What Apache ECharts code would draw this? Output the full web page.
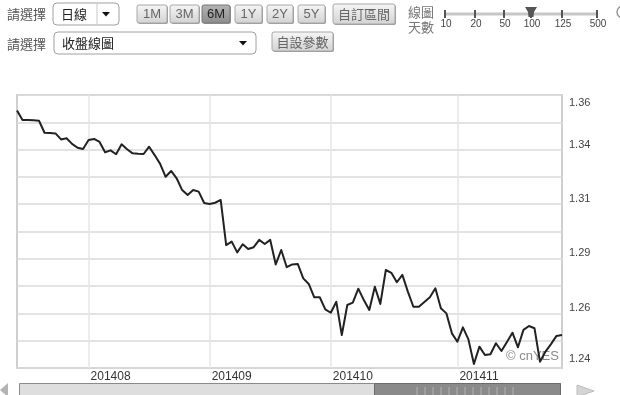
<!DOCTYPE html>
<html><head><meta charset="utf-8">
<script src="https://cdn.jsdelivr.net/npm/echarts@6/dist/echarts.min.js"></script>
<style>html,body{margin:0;padding:0;background:#fff}#c{width:620px;height:395px}</style>
</head><body><div id="c"></div>
<script>
// EUR/USD daily close
const closes = [
1.3527,1.3483,1.3483,1.3482,1.3480,1.3424,1.3423,1.3421,1.3393,1.3398,
1.3372,1.3354,1.3348,1.3390,1.3395,1.3381,1.3333,1.3342,1.3324,1.3370,
1.3347,1.3328,1.3326,1.3325,1.3359,1.3320,1.3279,1.3219,1.3246,1.3212,
1.3157,1.3134,1.3157,1.3150,1.3097,1.3092,1.3098,1.3111,1.2901,1.2917,
1.2867,1.2905,1.2883,1.2891,1.2925,1.2906,1.2925,1.2811,1.2878,1.2798,
1.2811,1.2813,1.2746,1.2720,1.2658,1.2658,1.2602,1.2586,1.2637,1.2482,
1.2622,1.2633,1.2698,1.2645,1.2599,1.2707,1.2627,1.2785,1.2772,1.2728,
1.2762,1.2684,1.2614,1.2614,1.2636,1.2658,1.2700,1.2607,1.2583,1.2490,
1.2451,1.2518,1.2462,1.2347,1.2428,1.2389,1.2393,1.2444,1.2408,1.2450,
1.2493,1.2425,1.2506,1.2524,1.2514,1.2358,1.2405,1.2440,1.2478,1.2482
];
const monthLabels = ['201408','201409','201410','201411'];
const monthStart = [13, 35, 57, 80];
const yTickLabels = ['1.24','1.26','1.29','1.31','1.34','1.36'];
const yTickValues = [1.2371, 1.2608, 1.2864, 1.3115, 1.3367, 1.3562];
const rangeButtons = ['1M','3M','6M','1Y','2Y','5Y'];
const activeRange = '6M';
const sliderLabels = ['10','20','50','100','125','500'];
const sliderActive = '100';

const categories = closes.map((_, i) => String(i));
const yInterval = 0.01271;
const yMin = 97 * yInterval;
const yMax = yMin + 10 * yInterval;

const CJK = '"Noto Sans CJK TC", "Noto Sans CJK SC", sans-serif';
const LAT = '"Liberation Sans", Arial, sans-serif';
const G = echarts.graphic;
const btnFill = () => new G.LinearGradient(0,0,0,1,[{offset:0,color:'#f6f6f6'},{offset:1,color:'#d2d2d2'}]);
const btnDark = () => new G.LinearGradient(0,0,0,1,[{offset:0,color:'#b4b4b4'},{offset:1,color:'#8c8c8c'}]);

const graphics = [];
function txt(x, y, text, opt) {
  graphics.push(Object.assign({type:'text', silent:true, style:Object.assign({x, y, text, fontSize:13, fontFamily:CJK, fill:'#555', verticalAlign:'middle', align:'left'}, opt||{})}));
}
function button(x, y, w, h, text, dark, font) {
  graphics.push({type:'rect', silent:true, shape:{x:x+1, y:y+1, width:w, height:h, r:2}, style:{fill:'#9a9a9a'}});
  graphics.push({type:'rect', silent:true, shape:{x, y, width:w, height:h, r:2}, style:{fill: dark ? btnDark() : btnFill(), stroke: dark ? '#777' : '#a8a8a8', lineWidth:1}});
  txt(x + w/2, y + h/2 + 0.5, text, {align:'center', fill: dark ? '#222' : '#666', fontFamily: font || LAT, fontSize: 13});
}
function select(x, y, w, h, text, divider) {
  graphics.push({type:'rect', silent:true, shape:{x, y, width:w, height:h, r:4}, style:{fill:'#fff', stroke:'#a0a0a0', lineWidth:1}});
  txt(x + 8, y + h/2, text, {fill:'#222'});
  if (divider) graphics.push({type:'line', silent:true, shape:{x1:divider, y1:y+1, x2:divider, y2:y+h-1}, style:{stroke:'#c8c8c8', lineWidth:1}});
  const ax = x + w - 13, ay = y + h/2;
  graphics.push({type:'polygon', silent:true, shape:{points:[[ax-4,ay-2],[ax+4,ay-2],[ax,ay+2.5]]}, style:{fill:'#111'}});
}

// toolbar row 1
txt(7, 14, '請選擇');
select(53, 3, 66, 22, '日線', 97);
const btnX = [137, 170, 202, 235, 267, 298];
const btnW = [30, 29, 28, 27, 26, 27];
rangeButtons.forEach((b, i) => button(btnX[i], 5, btnW[i], 18, b, b === activeRange));
button(333, 4, 62, 20, '自訂區間', false, CJK);
txt(408, 12, '線圖', {fill:'#777'});
txt(408, 27, '天數', {fill:'#777'});
const sliderX = [445, 475, 504, 531, 562, 597];
graphics.push({type:'line', silent:true, shape:{x1:445, y1:14, x2:597, y2:14}, style:{stroke:'#c6c6c6', lineWidth:3}});
sliderLabels.forEach((s, i) => {
  graphics.push({type:'line', silent:true, shape:{x1:sliderX[i], y1:10, x2:sliderX[i], y2:18}, style:{stroke:'#555', lineWidth:2}});
  txt(sliderX[i] + 1, 24, s, {align:'center', fontFamily:LAT, fontSize:10, fill:'#444'});
  if (s === sliderActive) {
    const k = sliderX[i];
    graphics.push({type:'polygon', silent:true, shape:{points:[[k-6,7],[k+6,7],[k+3,12],[k+2.5,17],[k-2.5,17],[k-3,12]]}, style:{fill:'#555'}});
  }
});
graphics.push({type:'circle', silent:true, shape:{cx:623, cy:12, r:6}, style:{fill:'none', stroke:'#999', lineWidth:1.5}});

// toolbar row 2
txt(7, 44, '請選擇');
select(54, 32, 202, 22, '收盤線圖', null);
button(272, 32, 61, 19, '自設參數', false, CJK);

// watermark
graphics.push({type:'text', silent:true, z:-1, style:{x:506, y:356, text:'© cnYES', fontSize:13, fontFamily:LAT, fill:'#8a8a8a', verticalAlign:'middle'}});

// bottom scrollbar
graphics.push({type:'polygon', silent:true, shape:{points:[[0,390],[8,383],[8,397]]}, style:{fill:'#b4b4b4'}});
graphics.push({type:'rect', silent:true, shape:{x:19.5, y:383.5, width:541, height:16}, style:{fill:'#dedede', stroke:'#8a8a8a', lineWidth:1}});
graphics.push({type:'rect', silent:true, shape:{x:374.5, y:383.5, width:186, height:16}, style:{fill:'#8a8a8a', stroke:'#6a6a6a', lineWidth:1}});
for (let k = 0; k < 13; k++) {
  graphics.push({type:'line', silent:true, shape:{x1:417 + 8*k, y1:387, x2:417 + 8*k, y2:395}, style:{stroke:'#b2b2b2', lineWidth:1}});
}
graphics.push({type:'polygon', silent:true, shape:{points:[[577,385],[594,391],[577,397]]}, style:{fill:'#d4d4d4', stroke:'#bdbdbd', lineWidth:1}});

const chart = echarts.init(document.getElementById('c'), null, {renderer:'canvas'});
chart.setOption({
  animation: false,
  backgroundColor: '#fff',
  grid: {left:17, right:58, top:95, bottom:27, show:true, borderColor:'#cfcfcf', borderWidth:2, containLabel:false},
  xAxis: {
    type: 'category', data: categories, boundaryGap: false,
    axisLine: {show:false}, axisTick: {show:false},
    axisLabel: {
      interval: (idx) => monthStart.includes(idx),
      formatter: (v, idx) => { const k = monthStart.indexOf(Number(v)); return k >= 0 ? monthLabels[k] : ''; },
      align: 'left', margin: 3, padding: [0,0,0,2], fontSize: 12, color: '#333', fontFamily: LAT
    },
    splitLine: {show:true, interval: (idx) => monthStart.includes(idx), lineStyle:{color:'#e6e6e6', width:1.5}}
  },
  yAxis: {
    type: 'value', position: 'right', min: yMin, max: yMax, interval: yInterval, scale: true,
    axisLine: {show:false}, axisTick: {show:false},
    axisLabel: {
      customValues: yTickValues,
      formatter: (v) => { let b = 0; for (let i = 1; i < yTickValues.length; i++) if (Math.abs(yTickValues[i]-v) < Math.abs(yTickValues[b]-v)) b = i; return yTickLabels[b]; },
      margin: 7, fontSize: 11, color: '#444', fontFamily: LAT
    },
    splitLine: {show:true, lineStyle:{color:'#dadada', width:1.5}}
  },
  series: [{
    type: 'line', data: closes, symbol: 'none', z: 5,
    lineStyle: {color:'#222', width:2, join:'round'}
  }],
  graphic: graphics
});
</script></body></html>
